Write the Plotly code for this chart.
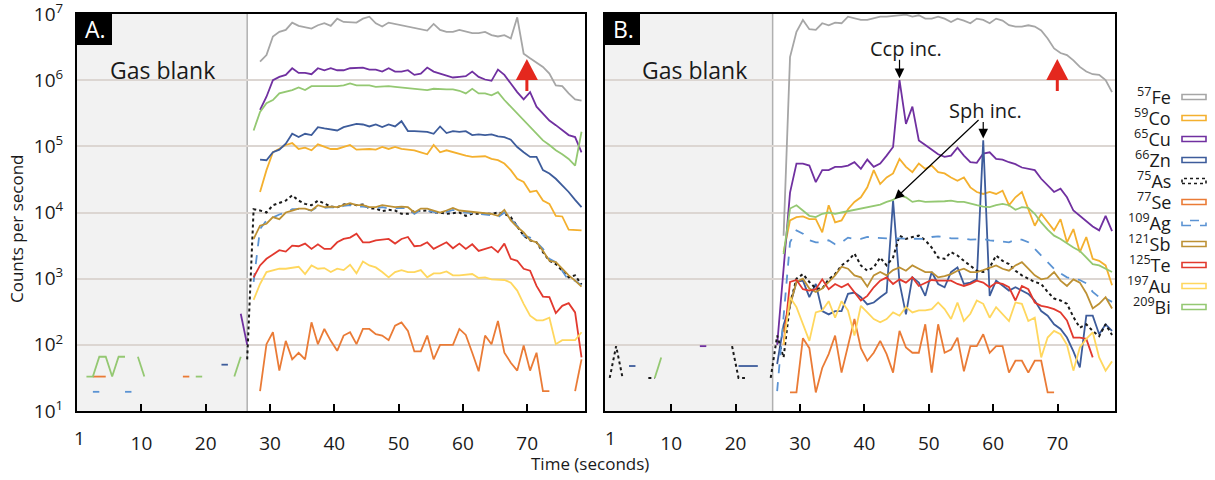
import plotly.graph_objects as go

W, H = 1215, 480
SECONDS = list(range(0, 79))

# ---------------------------------------------------------------------------
# Data: log10(counts per second), one reading per second.
# Each signal list starts at the second given by its *_START constant;
# *_BLANK dicts hold the scattered readings during the gas blank.
# ---------------------------------------------------------------------------
ELEMENTS = ["Fe", "Co", "Cu", "Zn", "As", "Se", "Ag", "Sb", "Te", "Au", "Bi"]
MASSES = ["57", "59", "65", "66", "75", "77", "109", "121", "125", "197", "209"]
COLORS = ["#a6a6a6", "#f4b02e", "#7030a0", "#3d5c9b", "#1a1a1a", "#ea7b36",
          "#5b93d3", "#bd9134", "#e2392e", "#ffd75e", "#94c872"]
DASHES = ["solid", "solid", "solid", "solid", "dot", "solid",
          "dash", "solid", "solid", "solid", "solid"]

# ---- Panel A ----
A_FE_START = 28
A_FE = [6.28, 6.38, 6.66, 6.73, 6.76, 6.87, 6.82, 6.80, 6.78, 6.83, 6.86, 6.82, 6.93,
        6.88, 6.87, 6.87, 6.93, 6.96, 6.86, 6.81, 6.87, 6.85, 6.83, 6.81, 6.78, 6.77,
        6.75, 6.85, 6.76, 6.73, 6.73, 6.76, 6.73, 6.71, 6.71, 6.73, 6.68, 6.66, 6.68,
        6.63, 6.95, 6.40, 6.33, 6.26, 6.20, 6.10, 5.92, 5.91, 5.80, 5.71, 5.69]

A_CO_START = 28
A_CO = [4.31, 4.64, 4.91, 4.96, 5.02, 5.05, 4.96, 4.98, 4.94, 5.03, 4.99, 4.96, 4.96,
        4.99, 5.02, 4.95, 4.96, 4.96, 4.95, 4.99, 4.96, 4.99, 4.96, 4.95, 4.94, 4.91,
        4.88, 5.02, 4.91, 4.94, 4.91, 4.88, 4.86, 4.84, 4.84, 4.85, 4.81, 4.79, 4.74,
        4.64, 4.51, 4.46, 4.31, 4.33, 4.18, 4.13, 3.95, 3.94, 3.74, 3.73, 3.73]

A_CU_START = 28
A_CU_BLANK = {25: 2.47, 26: 2.00}
A_CU = [5.55, 5.75, 6.00, 6.05, 6.08, 6.18, 6.11, 6.11, 6.09, 6.18, 6.15, 6.18, 6.15,
        6.15, 6.18, 6.19, 6.19, 6.16, 6.16, 6.13, 6.18, 6.13, 6.13, 6.15, 6.08, 6.10,
        6.19, 6.13, 6.10, 6.08, 6.04, 6.05, 6.06, 6.13, 6.05, 6.01, 5.99, 6.16, 6.08,
        5.95, 5.82, 5.71, 5.82, 5.60, 5.49, 5.39, 5.32, 5.24, 5.17, 5.14, 4.91]

A_ZN_START = 28
A_ZN_BLANK = {22: 1.70, 23: 1.70}
A_ZN = [4.80, 4.79, 4.91, 4.95, 5.04, 5.19, 5.14, 5.19, 5.17, 5.29, 5.27, 5.25, 5.24,
        5.29, 5.32, 5.34, 5.33, 5.30, 5.33, 5.29, 5.33, 5.30, 5.38, 5.23, 5.23, 5.23,
        5.22, 5.19, 5.30, 5.20, 5.23, 5.22, 5.23, 5.17, 5.18, 5.17, 5.18, 5.15, 5.14,
        5.10, 4.99, 4.91, 4.84, 4.84, 4.64, 4.59, 4.51, 4.41, 4.31, 4.19, 4.08]

A_AS_START = 27
A_AS_BLANK = {26: 1.78}
A_AS = [4.05, 4.03, 4.00, 4.11, 4.14, 4.18, 4.26, 4.18, 4.13, 4.11, 4.18, 4.13, 4.09,
        4.08, 4.12, 4.13, 4.11, 4.12, 4.06, 4.06, 4.02, 4.04, 4.03, 3.98, 3.98, 4.02,
        4.02, 4.03, 4.00, 4.00, 3.98, 3.99, 4.00, 3.95, 3.98, 3.98, 3.98, 3.98, 4.00,
        3.98, 3.93, 3.78, 3.65, 3.58, 3.55, 3.40, 3.27, 3.22, 3.12, 3.02, 3.05, 2.91]

A_SE_START = 28
A_SE_BLANK = {2: 1.52, 3: 1.52, 4: 1.52, 16: 1.52, 17: 1.52}
A_SE = [1.30, 2.01, 2.19, 1.61, 2.06, 1.78, 1.88, 1.78, 2.34, 2.01, 2.24, 2.06, 1.91,
        2.14, 2.19, 2.01, 2.24, 2.24, 2.16, 2.14, 2.07, 2.29, 2.34, 2.21, 1.90, 1.90,
        2.14, 1.78, 2.00, 2.00, 2.00, 2.24, 2.15, 1.88, 1.60, 2.14, 2.01, 2.36, 1.88,
        1.73, 1.61, 1.99, 1.61, 1.88, 1.30, 1.30, None, None, None, 1.30, 1.78]

A_AG_START = 27
A_AG_BLANK = {2: 1.29, 3: 1.29, 7: 1.29, 8: 1.29}
A_AG = [2.95, 3.75, 3.88, 3.93, 3.97, 4.00, 4.05, 4.05, 4.05, 4.03, 4.09, 4.07, 4.08,
        4.07, 4.10, 4.11, 4.09, 4.09, 4.07, 4.06, 4.08, 4.06, 4.06, 4.07, 4.06, 3.98,
        4.04, 4.03, 4.01, 3.98, 4.01, 4.04, 4.01, 4.00, 3.98, 3.97, 3.97, 3.96, 3.93,
        4.00, 3.90, 3.80, 3.65, 3.62, 3.55, 3.45, 3.30, 3.25, 3.12, 2.97, 2.97, 2.90]

A_SB_START = 27
A_SB = [3.60, 3.80, 3.83, 3.93, 3.90, 4.00, 4.03, 4.06, 4.06, 4.03, 4.11, 4.08, 4.09,
        4.08, 4.11, 4.14, 4.11, 4.11, 4.08, 4.08, 4.11, 4.09, 4.08, 4.09, 4.08, 4.00,
        4.06, 4.06, 4.03, 4.00, 4.03, 4.07, 4.03, 4.02, 4.00, 3.99, 3.99, 3.98, 3.95,
        4.04, 3.88, 3.78, 3.70, 3.58, 3.55, 3.42, 3.27, 3.25, 3.15, 3.05, 2.97, 2.88]

A_TE_START = 27
A_TE = [3.02, 3.20, 3.30, 3.36, 3.43, 3.41, 3.50, 3.49, 3.53, 3.45, 3.52, 3.45, 3.45,
        3.55, 3.60, 3.62, 3.68, 3.55, 3.55, 3.58, 3.59, 3.60, 3.53, 3.60, 3.63, 3.49,
        3.50, 3.55, 3.45, 3.50, 3.55, 3.46, 3.53, 3.45, 3.52, 3.42, 3.45, 3.48, 3.40,
        3.53, 3.30, 3.27, 3.15, 3.12, 2.89, 2.73, 2.72, 2.48, 2.59, 2.63, 2.49, 1.81]

A_AU_START = 27
A_AU = [2.68, 2.92, 3.10, 3.13, 3.15, 3.15, 3.16, 3.18, 3.07, 3.20, 3.15, 3.16, 3.10,
        3.15, 3.13, 3.21, 3.08, 3.26, 3.20, 3.17, 3.10, 3.02, 3.10, 3.13, 3.10, 3.10,
        3.13, 3.02, 3.08, 3.08, 3.11, 3.05, 3.05, 3.06, 3.07, 3.01, 3.02, 2.99, 2.98,
        2.98, 2.94, 2.82, 2.62, 2.44, 2.37, 2.37, 2.41, 2.01, 2.07, 2.07, 2.07, 2.19]

A_BI_START = 27
A_BI_BLANK = {1: 1.52, 2: 1.52, 3: 1.82, 4: 1.82, 5: 1.52, 6: 1.82, 7: 1.82,
              9: 1.82, 10: 1.52, 18: 1.52, 19: 1.52, 24: 1.52, 25: 1.82}
A_BI = [5.24, 5.52, 5.65, 5.70, 5.80, 5.82, 5.85, 5.89, 5.85, 5.91, 5.91, 5.90, 5.91,
        5.91, 5.92, 5.95, 5.92, 5.92, 5.92, 5.90, 5.91, 5.91, 5.90, 5.89, 5.88, 5.87,
        5.86, 5.85, 5.87, 5.86, 5.86, 5.86, 5.84, 5.80, 5.87, 5.80, 5.80, 5.77, 5.82,
        5.70, 5.60, 5.49, 5.39, 5.29, 5.19, 5.09, 5.02, 4.94, 4.88, 4.81, 4.71, 5.22]

# ---- Panel B ----
B_FE_START = 27
B_FE = [3.65, 6.35, 6.73, 6.91, 6.77, 6.76, 6.86, 6.83, 6.87, 6.86, 6.96, 6.93, 6.91,
        6.91, 6.93, 6.96, 6.96, 6.97, 6.98, 6.99, 6.96, 6.98, 6.93, 6.93, 6.96, 6.93,
        6.88, 6.93, 6.90, 6.86, 6.93, 6.91, 6.86, 6.93, 6.90, 6.83, 6.81, 6.81, 6.83,
        6.81, 6.75, 6.63, 6.48, 6.41, 6.38, 6.30, 6.20, 6.13, 6.09, 6.08, 6.00, 5.82]

B_CO_START = 27
B_CO = [3.40, 3.88, 3.93, 3.94, 3.90, 3.90, 3.70, 4.11, 3.85, 3.88, 4.05, 4.16, 4.23,
        4.38, 4.64, 4.43, 4.53, 4.59, 4.81, 4.69, 4.61, 4.74, 4.66, 4.71, 4.61, 4.59,
        4.53, 4.48, 4.53, 4.38, 4.31, 4.28, 4.31, 4.28, 4.33, 4.11, 4.23, 4.31, 4.05,
        3.80, 3.98, 3.85, 3.73, 3.90, 3.55, 3.75, 3.40, 3.63, 3.30, 3.27, 3.20, 2.90]

B_CU_START = 26
B_CU_BLANK = {14: 1.98, 15: 1.98}
B_CU = [2.00, 3.20, 4.30, 4.74, 4.74, 4.71, 4.46, 4.64, 4.64, 4.69, 4.69, 4.71, 4.76,
        4.66, 4.80, 4.69, 4.74, 4.86, 4.99, 6.00, 5.34, 5.60, 5.09, 5.02, 4.95, 4.88,
        4.84, 4.86, 4.98, 4.86, 4.76, 4.75, 4.89, 4.91, 4.81, 4.80, 4.76, 4.73, 4.68,
        4.66, 4.64, 4.51, 4.41, 4.31, 4.36, 4.23, 4.03, 3.95, 3.88, 3.79, 3.73, 3.95,
        3.72]

B_ZN_START = 26
B_ZN_BLANK = {3: 1.68, 4: 1.68, 20: 1.68, 21: 1.68, 22: 1.68, 23: 1.68}
B_ZN = [1.71, 2.30, 2.60, 2.95, 2.97, 2.72, 2.92, 2.51, 2.46, 2.51, 2.51, 2.77, 2.79,
        2.72, 2.61, 2.64, 2.72, 2.79, 4.18, 2.94, 2.46, 3.02, 2.94, 2.74, 3.10, 2.92,
        2.87, 3.10, 3.17, 2.92, 2.94, 2.99, 5.09, 2.74, 2.97, 2.89, 2.82, 2.87, 2.82,
        2.77, 2.67, 2.51, 2.44, 2.31, 2.24, 2.11, 1.90, 1.66, 2.44, 2.44, 2.16, 2.31,
        2.21]

B_AS_START = 26
B_AS_BLANK = {0: 1.50, 1: 1.98, 2: 1.50, 6: 1.50, 7: 1.50, 19: 1.98, 20: 1.50,
              21: 1.50, 25: 1.50}
B_AS = [2.14, 1.81, 2.62, 3.00, 3.07, 2.95, 2.85, 2.85, 2.99, 3.07, 3.20, 3.27, 3.38,
        3.20, 3.12, 3.17, 3.32, 3.20, 3.32, 3.65, 3.60, 3.63, 3.65, 3.58, 3.47, 3.32,
        3.30, 3.40, 3.35, 3.27, 3.20, 3.12, 3.10, 3.17, 3.35, 3.27, 3.22, 3.12, 3.05,
        3.00, 2.95, 2.92, 2.80, 2.70, 2.67, 2.62, 2.42, 2.26, 2.31, 2.21, 2.13, 2.31,
        2.15]

B_SE_START = 28
B_SE = [1.28, 1.28, 2.10, 1.95, 1.28, 1.65, 1.86, 2.14, 1.58, 2.00, 2.39, 1.95, 1.76,
        1.88, 2.06, 1.86, 1.58, 2.21, 1.96, 1.88, 1.88, 2.31, 1.58, 2.31, 1.88, 1.93,
        2.11, 1.60, 1.98, 1.98, 2.16, 1.88, 1.98, 1.98, 1.58, 1.76, 1.76, 1.58, 1.76,
        1.76, 1.28, 1.28]

B_AG_START = 26
B_AG = [1.30, 2.40, 3.55, 3.73, 3.68, 3.58, 3.55, 3.55, 3.58, 3.52, 3.55, 3.62, 3.60,
        3.60, 3.63, 3.62, 3.61, 3.61, 3.61, 3.61, 3.61, 3.61, 3.60, 3.60, 3.63, 3.64,
        3.63, 3.61, 3.61, 3.61, 3.59, 3.59, 3.60, 3.58, 3.57, 3.55, 3.55, 3.59, 3.59,
        3.55, 3.45, 3.35, 3.25, 3.15, 3.08, 3.02, 3.00, 2.98, 2.93, 2.80, 2.72, 2.70,
        2.65]

B_SB_START = 27
B_SB = [2.20, 2.60, 2.95, 3.00, 2.85, 2.80, 2.85, 2.95, 3.05, 3.18, 3.15, 3.05, 3.02,
        2.88, 3.05, 3.10, 3.05, 3.13, 3.17, 3.12, 3.20, 3.15, 3.10, 3.10, 3.02, 3.04,
        3.07, 3.12, 3.15, 3.10, 3.10, 3.13, 3.17, 3.20, 3.15, 3.12, 3.20, 3.25, 3.15,
        3.05, 2.99, 3.01, 3.10, 2.97, 2.89, 2.99, 2.94, 2.78, 2.55, 2.62, 2.72, 2.55]

B_TE_START = 27
B_TE = [2.00, 2.95, 2.98, 2.84, 2.82, 2.84, 2.99, 2.84, 2.92, 2.87, 2.92, 2.79, 2.67,
        2.74, 2.87, 2.97, 3.02, 2.92, 2.99, 2.94, 3.02, 2.89, 2.94, 2.98, 2.97, 2.97,
        2.97, 2.92, 2.89, 2.92, 2.97, 2.94, 2.87, 2.94, 2.92, 2.87, 2.67, 2.89, 2.84,
        2.64, 2.59, 2.57, 2.54, 2.49, 2.37, 2.11, 2.11, 2.09, 1.81]

B_AU_START = 27
B_AU = [2.00, 2.72, 2.57, 2.30, 2.06, 2.49, 2.52, 2.66, 2.41, 2.66, 2.52, 2.14, 2.59,
        2.49, 2.39, 2.34, 2.39, 2.49, 2.44, 2.57, 2.49, 2.52, 2.52, 2.54, 2.64, 2.54,
        2.39, 2.64, 2.36, 2.47, 2.67, 2.62, 2.41, 2.57, 2.47, 2.36, 2.64, 2.62, 2.36,
        2.41, 1.81, 2.11, 2.21, 2.16, 2.00, 1.61, 1.96, 2.09, 2.19, 1.81, 1.61, 1.75]

B_BI_START = 27
B_BI_BLANK = {7: 1.50, 8: 1.81}
B_BI = [3.37, 4.06, 4.11, 4.03, 3.95, 3.93, 3.98, 4.00, 3.98, 4.00, 4.02, 4.04, 4.06,
        4.07, 4.09, 4.12, 4.16, 4.19, 4.26, 4.23, 4.16, 4.18, 4.16, 4.16, 4.16, 4.17,
        4.18, 4.16, 4.16, 4.13, 4.11, 4.09, 4.08, 4.11, 4.13, 4.11, 4.04, 4.08, 4.07,
        3.98, 3.85, 3.74, 3.65, 3.60, 3.53, 3.47, 3.42, 3.32, 3.22, 3.20, 3.15, 3.10]

PANEL_A = [(A_FE_START, A_FE, None), (A_CO_START, A_CO, None),
           (A_CU_START, A_CU, A_CU_BLANK), (A_ZN_START, A_ZN, A_ZN_BLANK),
           (A_AS_START, A_AS, A_AS_BLANK), (A_SE_START, A_SE, A_SE_BLANK),
           (A_AG_START, A_AG, A_AG_BLANK), (A_SB_START, A_SB, None),
           (A_TE_START, A_TE, None), (A_AU_START, A_AU, None),
           (A_BI_START, A_BI, A_BI_BLANK)]
PANEL_B = [(B_FE_START, B_FE, None), (B_CO_START, B_CO, None),
           (B_CU_START, B_CU, B_CU_BLANK), (B_ZN_START, B_ZN, B_ZN_BLANK),
           (B_AS_START, B_AS, B_AS_BLANK), (B_SE_START, B_SE, None),
           (B_AG_START, B_AG, None), (B_SB_START, B_SB, None),
           (B_TE_START, B_TE, None), (B_AU_START, B_AU, None),
           (B_BI_START, B_BI, B_BI_BLANK)]

# x-axis labels sit a little to the left of the matching reading
TICK_LABELS = [10, 20, 30, 40, 50, 60, 70]
TICK_SHIFT = 0.45
# gas-blank period ends here (s)
A_BLANK_END, B_BLANK_END = 26.0, 25.3

# ---------------------------------------------------------------------------
# Layout geometry (pixels in the 1215 x 480 page)
# ---------------------------------------------------------------------------
A_LEFT, A_RIGHT = 77, 585
B_LEFT, B_RIGHT = 605, 1115
TOP, BOTTOM = 14, 411
A_RANGE = [-0.47, 78.54]
B_RANGE = [-0.73, 78.46]
FONT = "Open Sans"
INK = "#1a1a1a"


def px(x):
    return x / W


def py(y):
    return 1 - y / H


def build(start, values, blank=None):
    y = [None] * len(SECONDS)
    for t, v in (blank or {}).items():
        y[t] = 10 ** v
    for i, v in enumerate(values):
        if v is not None:
            y[start + i] = 10 ** v
    return y


def label(text, x, y, size, color=INK, xref="paper", yref="paper",
          xanchor="center", yanchor="middle", **kw):
    return dict(text=text, x=x, y=y, xref=xref, yref=yref, showarrow=False,
                xanchor=xanchor, yanchor=yanchor,
                font=dict(family=FONT, size=size, color=color), **kw)


fig = go.Figure()
for series, xa, ya in ((PANEL_A, "x", "y"), (PANEL_B, "x2", "y2")):
    for i, (start, vals, blank) in enumerate(series):
        fig.add_trace(go.Scatter(
            x=SECONDS, y=build(start, vals, blank), mode="lines",
            line=dict(color=COLORS[i], width=2.0 if DASHES[i] == "dot" else 1.8,
                      dash=DASHES[i]),
            connectgaps=False, showlegend=False, hoverinfo="skip",
            xaxis=xa, yaxis=ya))

xcommon = dict(showline=True, linecolor="black", linewidth=2, mirror=True,
               showgrid=False, zeroline=False, ticks="inside", ticklen=7,
               tickwidth=1.5, tickcolor="black",
               tickvals=[v - TICK_SHIFT for v in TICK_LABELS],
               ticktext=[str(v) for v in TICK_LABELS],
               tickfont=dict(family=FONT, size=19, color=INK),
               ticklabelstandoff=14, automargin=False)
ycommon = dict(type="log", range=[1, 7], showline=True, linecolor="black",
               linewidth=2, mirror=True, showgrid=True, gridcolor="#dcd6d2",
               gridwidth=2, zeroline=False, ticks="",
               tickvals=[10 ** k for k in range(1, 8)],
               ticktext=[f"10<sup>{k}</sup>" for k in range(1, 8)],
               tickfont=dict(family=FONT, size=19, color=INK),
               ticklabelstandoff=8, ticklabeloverflow="allow", automargin=False,
               domain=[py(BOTTOM), py(TOP)])

fig.update_layout(
    width=W, height=H, margin=dict(l=0, r=0, t=0, b=0),
    paper_bgcolor="white", plot_bgcolor="white", showlegend=False,
    font=dict(family=FONT, color=INK),
    xaxis=dict(domain=[px(A_LEFT), px(A_RIGHT)], range=A_RANGE, anchor="y", **xcommon),
    xaxis2=dict(domain=[px(B_LEFT), px(B_RIGHT)], range=B_RANGE, anchor="y2", **xcommon),
    yaxis=dict(anchor="x", showticklabels=True, **ycommon),
    yaxis2=dict(anchor="x2", showticklabels=False, **ycommon),
)

shapes = []
annotations = []

# gas-blank shading and its boundary line
for xref, x0, x1 in (("x", A_RANGE[0], A_BLANK_END), ("x2", B_RANGE[0], B_BLANK_END)):
    shapes.append(dict(type="rect", xref=xref, yref="paper", x0=x0, x1=x1,
                       y0=py(BOTTOM), y1=py(TOP), fillcolor="#f2f2f2",
                       line=dict(width=0), layer="below"))
    shapes.append(dict(type="line", xref=xref, yref="paper", x0=x1, x1=x1,
                       y0=py(BOTTOM), y1=py(TOP),
                       line=dict(color="#b0b0b0", width=1.5), layer="below"))

# panel letters
for left, letter in ((A_LEFT, "A."), (B_LEFT, "B.")):
    shapes.append(dict(type="rect", xref="paper", yref="paper",
                       x0=px(left), x1=px(left + 35), y0=py(TOP + 31), y1=py(TOP),
                       fillcolor="black", line=dict(width=0)))
    annotations.append(label(letter, px(left + 18), py(TOP + 15), 23, color="white"))

# "Gas blank" captions
for cx in (162, 694):
    annotations.append(label("Gas blank", px(cx), py(70), 23))

# red up-arrows marking the end of the ablation
ARROW_T = 69.5
for xref, scale in (("x", (A_RANGE[1] - A_RANGE[0]) / (A_RIGHT - A_LEFT)),
                    ("x2", (B_RANGE[1] - B_RANGE[0]) / (B_RIGHT - B_LEFT))):
    hw = 11 * scale
    shapes.append(dict(type="path", xref=xref, yref="paper",
                       path=(f"M {ARROW_T - hw},{py(80)} L {ARROW_T},{py(59)} "
                             f"L {ARROW_T + hw},{py(80)} Z"),
                       fillcolor="#e4281e", line=dict(width=0)))
    shapes.append(dict(type="line", xref=xref, yref="paper", x0=ARROW_T, x1=ARROW_T,
                       y0=py(79), y1=py(91), line=dict(color="#e4281e", width=3)))

# first-second tick label at the left edge of each panel
for xref, x in (("x", -0.15), ("x2", 0.2)):
    annotations.append(label("1", x, py(438), 19, xref=xref))

# axis titles
annotations.append(label("Time (seconds)", px(590), py(463), 17))
annotations.append(label("Counts per second", px(16), py(229), 17, textangle=-90))

# inclusion call-outs in panel B
cu_peak = max(B_CU)
cu_peak_t = B_CU_START + B_CU.index(cu_peak)
zn_sorted = sorted(B_ZN, reverse=True)
zn_t1 = B_ZN_START + B_ZN.index(zn_sorted[1])
zn_t2 = B_ZN_START + B_ZN.index(zn_sorted[0])
ARROW = dict(showarrow=True, arrowhead=2, arrowsize=1.6, arrowwidth=1.2,
             arrowcolor="black", standoff=2, xref="x2", yref="y2", text="")
annotations.append(label("Ccp inc.", cu_peak_t + 1.0, 6.485, 20, xref="x2", yref="y2"))
annotations.append(dict(x=cu_peak_t, y=cu_peak, ax=0, ay=-22, **ARROW))
annotations.append(label("Sph inc.", zn_t2 + 0.4, 5.545, 20, xref="x2", yref="y2"))
annotations.append(dict(x=zn_t2, y=zn_sorted[0], ax=0, ay=-20, **ARROW))
annotations.append(dict(x=zn_t1, y=zn_sorted[1], ax=87, ay=-82, **ARROW))

# legend: label on the left, outlined line sample on the right
LEG_Y = [97, 118, 139, 160, 181, 202, 223, 244, 265, 286, 307]
for i, el in enumerate(ELEMENTS):
    y = LEG_Y[i]
    annotations.append(label(f"<sup>{MASSES[i]}</sup>{el}", px(1173), py(y - 1), 18,
                             xanchor="right"))
    shapes.append(dict(type="rect", xref="paper", yref="paper",
                       x0=px(1182), x1=px(1206), y0=py(y + 2.5), y1=py(y - 2.5),
                       fillcolor="white",
                       line=dict(color=COLORS[i], width=1.6,
                                 dash="dot" if DASHES[i] == "dot" else
                                 ("dash" if DASHES[i] == "dash" else "solid"))))

fig.update_layout(shapes=shapes, annotations=annotations)
fig.write_html("out.html")
